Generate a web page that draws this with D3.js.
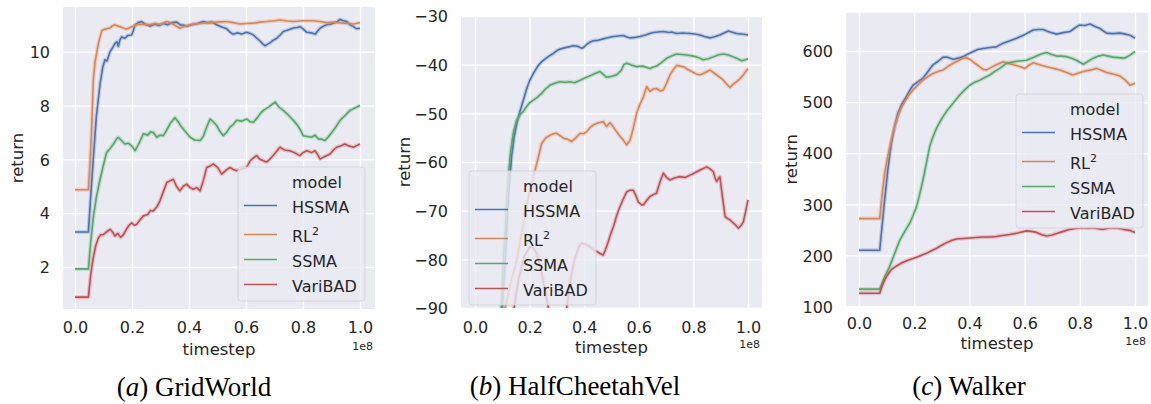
<!DOCTYPE html>
<meta charset="utf-8">
<html lang="en">
<head>
	<title>Meta-RL returns</title>
	<script src="https://d3js.org/d3.v7.min.js" charset="utf-8"></script>
	<style>
		body { margin: 0; background: #fff; }
		text { font-family: "DejaVu Sans", sans-serif; }
	</style>
</head>
<body>
	<script>
// data: x is timestep / 1e8
var models = ["HSSMA", "RL2", "SSMA", "VariBAD"];
var colors = ["#4C72B0", "#DD8452", "#55A868", "#C44E52"];
var xTicks = [0, 0.2, 0.4, 0.6, 0.8, 1.0];

var gridYTicks = [2, 4, 6, 8, 10];
var gridHSSMA = [[0,3.3],[0.047,3.3],[0.055,4.6],[0.064,6.0],[0.075,7.6],[0.088,8.8],[0.097,9.4],[0.105,9.7],[0.112,9.65],[0.123,10.0],[0.132,10.15],[0.14,10.3],[0.147,10.37],[0.152,10.2],[0.158,10.45],[0.164,10.55],[0.175,10.5],[0.185,10.6],[0.199,10.62],[0.205,10.8],[0.211,11.0],[0.222,11.08],[0.234,11.12],[0.242,11.05],[0.251,11.0],[0.265,10.95],[0.28,11.02],[0.295,10.97],[0.31,11.05],[0.325,11.0],[0.34,11.08],[0.357,11.1],[0.37,11.0],[0.382,10.98],[0.392,10.95],[0.41,11.0],[0.43,11.05],[0.45,11.12],[0.465,11.08],[0.48,11.1],[0.497,11.0],[0.515,10.92],[0.532,10.85],[0.545,10.72],[0.555,10.65],[0.57,10.7],[0.585,10.66],[0.602,10.72],[0.615,10.68],[0.626,10.62],[0.638,10.5],[0.649,10.4],[0.658,10.3],[0.667,10.22],[0.676,10.28],[0.684,10.33],[0.695,10.42],[0.708,10.5],[0.72,10.62],[0.731,10.75],[0.745,10.8],[0.766,10.88],[0.779,10.9],[0.79,10.93],[0.8,10.85],[0.813,10.72],[0.83,10.7],[0.843,10.65],[0.852,10.78],[0.86,10.87],[0.872,10.95],[0.883,11.0],[0.895,11.02],[0.907,11.06],[0.918,11.1],[0.93,11.2],[0.942,11.15],[0.953,11.12],[0.965,11.0],[0.977,10.93],[0.988,10.85],[1.0,10.87]];
var gridRL2 = [[0,4.87],[0.047,4.87],[0.053,5.95],[0.058,7.0],[0.064,8.9],[0.07,9.6],[0.076,9.95],[0.082,10.3],[0.088,10.55],[0.094,10.78],[0.1,10.82],[0.111,10.85],[0.122,10.88],[0.13,10.95],[0.14,11.0],[0.15,10.95],[0.158,10.93],[0.17,10.88],[0.181,10.84],[0.19,10.88],[0.199,10.93],[0.216,11.0],[0.24,11.02],[0.26,11.0],[0.28,11.05],[0.3,11.02],[0.322,11.12],[0.34,11.05],[0.355,10.95],[0.368,10.87],[0.385,10.95],[0.4,10.98],[0.415,11.03],[0.44,11.05],[0.474,11.08],[0.5,11.1],[0.532,11.12],[0.555,11.08],[0.579,11.03],[0.6,11.05],[0.626,11.06],[0.65,11.1],[0.673,11.12],[0.7,11.15],[0.72,11.18],[0.745,11.14],[0.766,11.12],[0.8,11.15],[0.836,11.15],[0.86,11.12],[0.883,11.08],[0.91,11.1],[0.942,11.06],[0.96,11.05],[0.977,11.03],[0.99,11.06],[1.0,11.08]];
var gridSSMA = [[0,1.93],[0.047,1.93],[0.055,2.9],[0.064,3.83],[0.075,4.6],[0.088,5.26],[0.1,5.8],[0.111,6.26],[0.123,6.4],[0.135,6.57],[0.145,6.75],[0.152,6.82],[0.163,6.7],[0.175,6.57],[0.187,6.6],[0.199,6.5],[0.211,6.32],[0.225,6.6],[0.24,6.95],[0.255,6.9],[0.265,7.02],[0.275,7.0],[0.287,6.82],[0.298,6.9],[0.31,6.88],[0.322,7.1],[0.335,7.35],[0.351,7.55],[0.362,7.4],[0.374,7.2],[0.39,7.0],[0.404,6.82],[0.42,6.72],[0.439,6.7],[0.45,6.85],[0.462,7.2],[0.474,7.5],[0.485,7.4],[0.497,7.26],[0.508,7.05],[0.52,6.88],[0.532,7.0],[0.544,7.2],[0.556,7.3],[0.567,7.45],[0.585,7.42],[0.602,7.5],[0.614,7.4],[0.626,7.38],[0.64,7.55],[0.65,7.7],[0.661,7.82],[0.68,7.95],[0.702,8.13],[0.715,7.95],[0.731,7.82],[0.748,7.65],[0.766,7.45],[0.778,7.3],[0.789,7.13],[0.801,6.88],[0.815,6.85],[0.83,6.82],[0.842,6.9],[0.854,6.76],[0.866,6.75],[0.877,6.7],[0.89,6.85],[0.906,7.07],[0.918,7.25],[0.93,7.45],[0.945,7.6],[0.965,7.82],[0.98,7.9],[1.0,8.0]];
var gridVariBAD = [[0,0.88],[0.047,0.88],[0.055,1.7],[0.064,2.34],[0.073,2.8],[0.082,3.08],[0.09,3.2],[0.099,3.2],[0.11,3.3],[0.123,3.4],[0.132,3.3],[0.14,3.15],[0.15,3.25],[0.16,3.1],[0.17,3.2],[0.18,3.4],[0.19,3.55],[0.199,3.64],[0.208,3.55],[0.216,3.58],[0.228,3.75],[0.24,3.9],[0.255,3.95],[0.265,4.1],[0.275,4.08],[0.288,4.25],[0.298,4.45],[0.31,4.8],[0.322,5.14],[0.333,5.2],[0.345,5.26],[0.356,5.0],[0.368,4.83],[0.38,5.0],[0.392,5.08],[0.404,4.95],[0.415,4.89],[0.427,4.95],[0.439,4.83],[0.45,5.2],[0.462,5.7],[0.474,5.75],[0.485,5.83],[0.5,5.7],[0.515,5.45],[0.53,5.6],[0.544,5.7],[0.556,5.62],[0.567,5.58],[0.585,5.65],[0.602,5.7],[0.615,5.95],[0.626,6.05],[0.637,6.14],[0.649,6.0],[0.661,5.95],[0.672,5.9],[0.684,6.01],[0.7,6.2],[0.719,6.45],[0.735,6.35],[0.754,6.32],[0.77,6.25],[0.789,6.14],[0.8,6.25],[0.813,6.32],[0.83,6.25],[0.842,6.32],[0.85,6.2],[0.86,6.01],[0.875,6.1],[0.895,6.2],[0.907,6.35],[0.918,6.45],[0.932,6.5],[0.947,6.57],[0.96,6.5],[0.977,6.45],[0.99,6.52],[1.0,6.57]];

var cheetahYTicks = [-90, -80, -70, -60, -50, -40, -30];
var cheetahHSSMA = [[0,-160],[0.085,-160],[0.098,-92],[0.104,-86],[0.11,-81.5],[0.116,-74],[0.122,-67.8],[0.128,-63],[0.134,-58.9],[0.143,-55],[0.153,-52.1],[0.165,-49.5],[0.177,-47.3],[0.189,-45],[0.201,-43.2],[0.215,-41.7],[0.23,-40.3],[0.244,-39.4],[0.26,-38.7],[0.275,-38.1],[0.287,-37.7],[0.3,-37.1],[0.312,-36.8],[0.324,-36.6],[0.34,-36.4],[0.36,-36.1],[0.375,-36.2],[0.39,-36.6],[0.397,-36.5],[0.41,-35.8],[0.42,-35.4],[0.433,-35.1],[0.45,-35.0],[0.47,-34.7],[0.49,-34.4],[0.507,-34.2],[0.525,-34.1],[0.543,-34.0],[0.556,-34.3],[0.568,-34.5],[0.585,-34.4],[0.604,-34.2],[0.625,-33.9],[0.64,-33.6],[0.653,-33.4],[0.67,-33.3],[0.69,-33.2],[0.71,-33.4],[0.72,-33.3],[0.739,-33.6],[0.76,-33.5],[0.788,-33.6],[0.805,-33.7],[0.824,-33.9],[0.84,-34.2],[0.861,-34.5],[0.88,-34.2],[0.897,-33.9],[0.912,-33.5],[0.928,-33.1],[0.94,-33.3],[0.958,-33.6],[0.975,-33.7],[0.99,-33.8],[1.0,-33.9]];
var cheetahRL2 = [[0,-180],[0.09,-180],[0.11,-90],[0.13,-85],[0.153,-80.1],[0.17,-75],[0.189,-69.2],[0.2,-66],[0.214,-63.0],[0.23,-59.5],[0.244,-56.2],[0.26,-55],[0.275,-54.5],[0.287,-54.2],[0.299,-54.1],[0.312,-54.6],[0.324,-55.1],[0.338,-55.3],[0.354,-55.8],[0.37,-55.0],[0.385,-54.1],[0.397,-54.2],[0.409,-53.8],[0.42,-53.0],[0.433,-52.4],[0.45,-52.0],[0.47,-51.7],[0.482,-52.7],[0.495,-51.9],[0.507,-52.8],[0.519,-53.8],[0.531,-54.7],[0.543,-55.5],[0.556,-56.5],[0.562,-56.0],[0.568,-55.5],[0.58,-53.0],[0.592,-50.0],[0.605,-48.0],[0.617,-46.6],[0.629,-44.5],[0.641,-45.5],[0.653,-45.0],[0.665,-44.9],[0.678,-45.4],[0.69,-45.2],[0.702,-43.8],[0.714,-42.1],[0.727,-41.0],[0.739,-40.1],[0.751,-40.3],[0.763,-40.4],[0.78,-41.0],[0.794,-41.4],[0.81,-41.9],[0.824,-42.1],[0.84,-41.7],[0.861,-41.1],[0.873,-41.6],[0.885,-42.1],[0.897,-42.6],[0.91,-43.2],[0.922,-44.0],[0.934,-44.7],[0.946,-44.0],[0.958,-43.5],[0.97,-42.9],[0.983,-42.1],[0.992,-41.4],[1.0,-40.8]];
var cheetahSSMA = [[0,-170],[0.085,-170],[0.095,-92],[0.102,-82],[0.11,-74.7],[0.116,-68],[0.122,-63.0],[0.13,-58],[0.14,-54.1],[0.152,-51.5],[0.165,-50.3],[0.177,-49.6],[0.189,-48.6],[0.201,-47.8],[0.214,-47.3],[0.23,-46.6],[0.244,-45.9],[0.26,-44.9],[0.275,-44.2],[0.293,-43.8],[0.311,-43.5],[0.33,-43.6],[0.348,-43.5],[0.365,-43.7],[0.385,-43.2],[0.4,-42.8],[0.421,-42.3],[0.44,-41.8],[0.458,-41.4],[0.47,-42.0],[0.482,-42.6],[0.5,-42.4],[0.519,-42.1],[0.535,-41.2],[0.545,-40.0],[0.556,-39.7],[0.575,-40.1],[0.592,-40.4],[0.615,-40.3],[0.641,-40.8],[0.653,-40.5],[0.665,-40.3],[0.685,-39.5],[0.702,-38.7],[0.72,-38.2],[0.739,-37.8],[0.757,-37.9],[0.775,-38.0],[0.795,-38.2],[0.812,-38.4],[0.836,-39.0],[0.855,-38.8],[0.873,-38.4],[0.89,-38.0],[0.91,-37.8],[0.928,-38.0],[0.946,-38.4],[0.962,-38.8],[0.977,-39.2],[0.99,-39.0],[1.0,-38.8]];
var cheetahVariBAD = [[0,-200],[0.1,-200],[0.143,-90],[0.16,-84],[0.18,-79.5],[0.2,-77.4],[0.213,-77.6],[0.226,-78.8],[0.24,-81.5],[0.255,-86],[0.269,-90],[0.3,-96],[0.336,-90],[0.35,-84],[0.365,-80],[0.38,-77.5],[0.39,-76.7],[0.405,-76.9],[0.421,-77.4],[0.433,-78],[0.446,-78.4],[0.458,-78.8],[0.47,-79.1],[0.478,-78],[0.488,-76.4],[0.497,-74.8],[0.507,-73.3],[0.519,-71],[0.531,-69.2],[0.544,-67.5],[0.556,-66.1],[0.568,-65.8],[0.58,-65.8],[0.59,-67],[0.598,-68.2],[0.61,-68.8],[0.617,-68.8],[0.63,-67.8],[0.641,-67.1],[0.653,-66.7],[0.665,-66.4],[0.678,-64],[0.69,-62.3],[0.702,-63.2],[0.714,-63.7],[0.73,-63.3],[0.751,-63.0],[0.77,-63.2],[0.788,-62.7],[0.8,-62.4],[0.812,-62.0],[0.83,-61.5],[0.849,-61.0],[0.861,-61.4],[0.873,-62.0],[0.879,-63.2],[0.885,-64.0],[0.891,-63.5],[0.897,-63.0],[0.905,-66.5],[0.916,-71.2],[0.925,-71.6],[0.934,-71.9],[0.95,-72.7],[0.965,-73.6],[0.975,-73.0],[0.983,-72.3],[0.992,-70.0],[1.0,-67.8]];

var walkerYTicks = [100, 200, 300, 400, 500, 600];
var walkerHSSMA = [[0,210],[0.075,210],[0.084,260],[0.093,309],[0.105,370],[0.117,419],[0.129,452],[0.141,478],[0.156,497],[0.172,511],[0.184,523],[0.196,533],[0.214,540],[0.232,547],[0.25,560],[0.268,573],[0.287,580],[0.305,588],[0.32,588],[0.341,584],[0.36,586],[0.377,589],[0.395,594],[0.414,599],[0.43,603],[0.45,605],[0.475,607],[0.498,608],[0.51,612],[0.522,615],[0.547,620],[0.571,625],[0.6,632],[0.631,641],[0.65,642],[0.667,642],[0.69,637],[0.716,633],[0.74,636],[0.764,638],[0.782,645],[0.8,651],[0.818,650],[0.837,653],[0.855,648],[0.873,644],[0.897,635],[0.92,634],[0.946,635],[0.965,633],[0.982,631],[1.0,625]];
var walkerRL2 = [[0,272],[0.075,272],[0.084,320],[0.093,361],[0.105,396],[0.117,426],[0.129,452],[0.141,472],[0.153,489],[0.166,501],[0.18,513],[0.196,524],[0.214,534],[0.232,543],[0.25,550],[0.268,556],[0.287,560],[0.305,563],[0.323,570],[0.341,576],[0.36,581],[0.377,586],[0.39,587],[0.401,584],[0.42,576],[0.438,569],[0.45,564],[0.462,563],[0.48,568],[0.498,573],[0.51,576],[0.522,579],[0.54,576],[0.559,573],[0.58,570],[0.601,566],[0.615,572],[0.631,577],[0.655,573],[0.68,569],[0.705,566],[0.728,563],[0.752,558],[0.776,553],[0.795,557],[0.813,560],[0.84,563],[0.861,566],[0.88,562],[0.897,558],[0.92,555],[0.946,551],[0.965,543],[0.982,533],[1.0,537]];
var walkerSSMA = [[0,134],[0.075,134],[0.093,158],[0.111,178],[0.13,205],[0.148,230],[0.166,247],[0.184,263],[0.196,278],[0.208,295],[0.22,320],[0.232,348],[0.244,380],[0.256,413],[0.268,432],[0.281,449],[0.293,461],[0.305,472],[0.32,484],[0.335,494],[0.35,504],[0.365,514],[0.383,524],[0.401,533],[0.42,539],[0.438,543],[0.456,548],[0.474,553],[0.492,560],[0.51,566],[0.522,571],[0.534,576],[0.553,578],[0.571,580],[0.59,581],[0.607,582],[0.625,586],[0.643,590],[0.66,594],[0.68,597],[0.698,593],[0.716,590],[0.734,590],[0.752,589],[0.77,586],[0.788,582],[0.8,578],[0.813,574],[0.83,580],[0.849,586],[0.867,590],[0.885,592],[0.903,590],[0.921,588],[0.94,587],[0.958,586],[0.97,588],[0.982,592],[1.0,599]];
var walkerVariBAD = [[0,126],[0.075,126],[0.084,140],[0.093,152],[0.105,163],[0.117,172],[0.135,179],[0.154,185],[0.175,190],[0.196,194],[0.22,199],[0.244,204],[0.262,209],[0.281,214],[0.3,220],[0.317,225],[0.335,229],[0.353,232],[0.38,233],[0.401,234],[0.425,235],[0.45,236],[0.475,236],[0.498,237],[0.52,239],[0.547,241],[0.575,244],[0.607,248],[0.625,247],[0.643,245],[0.66,241],[0.68,238],[0.7,240],[0.716,243],[0.74,247],[0.764,251],[0.79,253],[0.813,254],[0.83,253],[0.849,254],[0.867,252],[0.885,251],[0.903,253],[0.921,254],[0.94,253],[0.958,251],[0.98,249],[1.0,245]];

// layout of the three panels (pixels)
var panels = [
  { id: "a", name: "GridWorld", series: [gridHSSMA, gridRL2, gridSSMA, gridVariBAD], yTicks: gridYTicks,
    box: [63, 375, 7, 309], xr: [75, 360], yd: [2, 10], yr: [267, 51.7],
    tickPad: 13, titleY: 355, expY: 350, ylabX: 23, legend: [238, 167], capX: 194, capY: 396 },
  { id: "b", name: "HalfCheetahVel", series: [cheetahHSSMA, cheetahRL2, cheetahSSMA, cheetahVariBAD], yTicks: cheetahYTicks,
    box: [461, 762, 16, 308], xr: [475, 748], yd: [-90, -30], yr: [308, 16],
    tickPad: 14, titleY: 353, expY: 348, ylabX: 410, legend: [469, 171], capX: 575, capY: 395 },
  { id: "c", name: "Walker", series: [walkerHSSMA, walkerRL2, walkerSSMA, walkerVariBAD], yTicks: walkerYTicks,
    box: [846, 1148, 12.7, 306], xr: [859, 1135], yd: [100, 600], yr: [306.5, 51],
    tickPad: 12, titleY: 349, expY: 345, ylabX: 797, legend: [1016, 94], capX: 969, capY: 395 }
];

var width = 1151, height = 404;

var svg = d3.select("body").append("svg")
    .attr("width", width)
    .attr("height", height);

panels.forEach(function(p) {
  var left = p.box[0], right = p.box[1], top = p.box[2], bottom = p.box[3];
  var x = d3.scaleLinear().domain([0, 1]).range(p.xr);
  var y = d3.scaleLinear().domain(p.yd).range(p.yr);

  var g = svg.append("g").attr("class", "panel-" + p.id);

  g.append("rect")
      .attr("x", left).attr("y", top)
      .attr("width", right - left).attr("height", bottom - top)
      .style("fill", "#EAEAF2");

  g.append("clipPath").attr("id", "clip-" + p.id)
    .append("rect")
      .attr("x", left).attr("y", top)
      .attr("width", right - left).attr("height", bottom - top);

  // x axis + vertical grid
  var xa = g.append("g")
      .attr("transform", "translate(0," + bottom + ")")
      .call(d3.axisBottom(x).tickValues(xTicks).tickFormat(d3.format(".1f"))
        .tickSize(-(bottom - top)).tickPadding(p.tickPad));
  // y axis + horizontal grid
  var ya = g.append("g")
      .attr("transform", "translate(" + left + ",0)")
      .call(d3.axisLeft(y).tickValues(p.yTicks).tickFormat(d3.format("d"))
        .tickSize(-(right - left)).tickPadding(13));

  [xa, ya].forEach(function(a) {
    a.select(".domain").remove();
    a.selectAll("line").style("stroke", "#fff").style("stroke-width", 1.3);
    a.selectAll("text").style("fill", "#262626").style("font-size", "16px")
      .style("font-family", "'DejaVu Sans', sans-serif");
  });
  ya.selectAll("text").attr("dy", "0.36em");

  g.append("text")
      .attr("x", (left + right) / 2).attr("y", p.titleY)
      .attr("text-anchor", "middle")
      .style("font-size", "16.5px").style("fill", "#262626")
      .text("timestep");

  g.append("text")
      .attr("x", right - 2).attr("y", p.expY)
      .attr("text-anchor", "end")
      .style("font-size", "11px").style("fill", "#262626")
      .text("1e8");

  g.append("text")
      .attr("transform", "translate(" + p.ylabX + "," + ((top + bottom) / 2) + ") rotate(-90)")
      .attr("text-anchor", "middle")
      .style("font-size", "16.5px").style("fill", "#262626")
      .text("return");

  var line = d3.line()
      .x(function(d) { return x(d[0]); })
      .y(function(d) { return y(d[1]); });

  var lines = g.append("g").attr("clip-path", "url(#clip-" + p.id + ")");
  p.series.forEach(function(s, i) {
    lines.append("path")
        .attr("d", line(s))
        .style("fill", "none")
        .style("stroke", colors[i])
        .style("stroke-opacity", 0.25)
        .style("stroke-width", 4)
        .style("stroke-linejoin", "round");
    lines.append("path")
        .attr("d", line(s))
        .style("fill", "none")
        .style("stroke", colors[i])
        .style("stroke-width", 1.6)
        .style("stroke-linejoin", "round");
  });

  // legend
  var lx = p.legend[0], ly = p.legend[1];
  var lg = g.append("g").attr("transform", "translate(" + lx + "," + ly + ")");
  lg.append("rect")
      .attr("width", 127).attr("height", 134).attr("rx", 3)
      .style("fill", "#EAEAF2").style("fill-opacity", 0.8)
      .style("stroke", "#cfcfd8").style("stroke-opacity", 0.8);
  var rows = [21, 46, 75, 100, 125];
  lg.append("text")
      .attr("x", 54).attr("y", rows[0])
      .style("font-size", "16px").style("fill", "#262626")
      .text("model");
  models.forEach(function(m, i) {
    var by = rows[i + 1];
    lg.append("line")
        .attr("x1", 6).attr("x2", 39)
        .attr("y1", by - 7.5).attr("y2", by - 7.5)
        .style("stroke", colors[i]).style("stroke-width", 1.6);
    var t = lg.append("text")
        .attr("x", 54).attr("y", by)
        .style("font-size", "16px").style("fill", "#262626");
    if (m === "RL2") {
      t.append("tspan").text("RL");
      t.append("tspan").attr("dy", -7).style("font-size", "11px").text("2");
    } else {
      t.text(m);
    }
  });

  // caption
  var cap = svg.append("text")
      .attr("x", p.capX).attr("y", p.capY)
      .attr("text-anchor", "middle")
      .style("font-family", "'Liberation Serif', 'Times New Roman', serif")
      .style("font-size", "27px").style("fill", "#000");
  cap.append("tspan").text("(");
  cap.append("tspan").style("font-style", "italic").text(p.id);
  cap.append("tspan").text(") " + p.name);
});
	</script>
</body>
</html>
